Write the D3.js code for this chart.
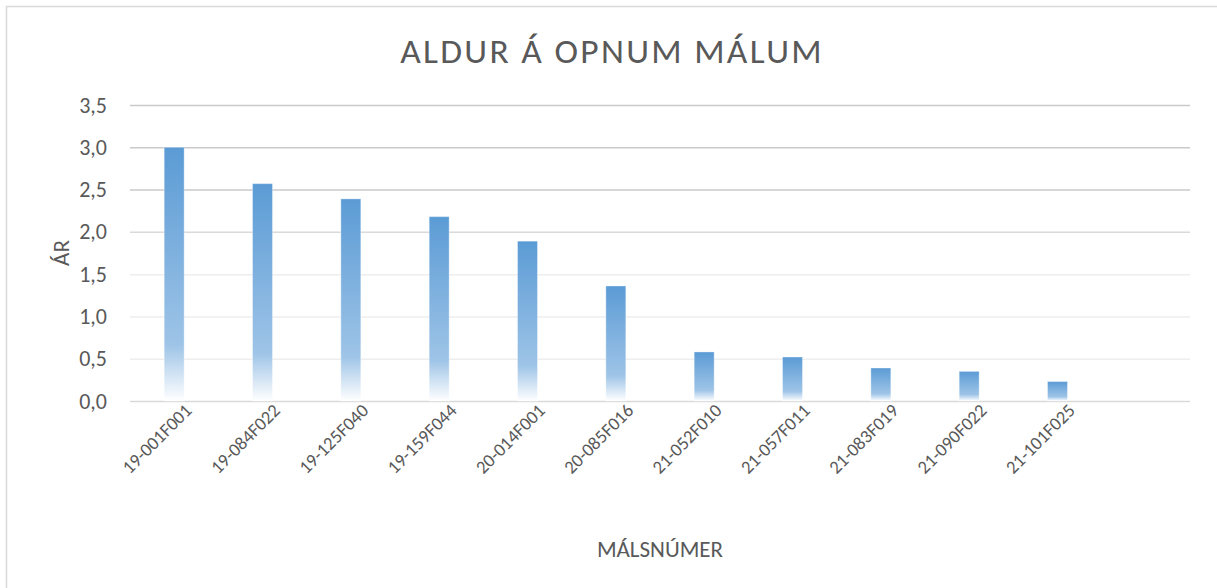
<!DOCTYPE html>
<html>
<head>
<meta charset="utf-8">
<style>
  body { margin: 0; background: #fff; }
  svg { display: block; font-family: Carlito, Lato, "Open Sans", sans-serif; }
</style>
</head>
<body>
<svg width="1217" height="588"></svg>
<script src="https://cdn.jsdelivr.net/npm/d3@7"></script>
<script>

// case numbers (the last slot is empty in the original sheet)
var cases = ["19-001F001", "19-084F022", "19-125F040", "19-159F044", "20-014F001",
             "20-085F016", "21-052F010", "21-057F011", "21-083F019", "21-090F022",
             "21-101F025", ""];
// age in years
var years = [3.00, 2.57, 2.39, 2.18, 1.89, 1.36, 0.58, 0.52, 0.39, 0.35, 0.23];
var yTicks = [0, 0.5, 1, 1.5, 2, 2.5, 3, 3.5];

var svg = d3.select("svg"),
    margin = {top: 105, right: 27, bottom: 187, left: 130},
    width = +svg.attr("width") - margin.left - margin.right,
    height = +svg.attr("height") - margin.top - margin.bottom;

// chart frame
svg.append("rect")
    .attr("x", 6.5).attr("y", 6.5)
    .attr("width", 1230).attr("height", 600)
    .attr("fill", "none")
    .attr("stroke", "#d9d9d9")
    .attr("stroke-width", 1.5);

var defs = svg.append("defs");
var grad = defs.append("linearGradient")
    .attr("id", "barfill")
    .attr("x1", 0).attr("y1", 0).attr("x2", 0).attr("y2", 1);
grad.append("stop").attr("offset", "0%").attr("stop-color", "#5b9bd5");
grad.append("stop").attr("offset", "78%").attr("stop-color", "#9ec4e7");
grad.append("stop").attr("offset", "100%").attr("stop-color", "#ffffff");

var g = svg.append("g").attr("transform", "translate(" + margin.left + "," + margin.top + ")");

var x = d3.scaleBand()
    .domain(cases.map(function(d, i) { return i; }))
    .range([0, width])
    .paddingInner(0.774)
    .paddingOuter(0.387);

var y = d3.scaleLinear()
    .domain([0, 3.5])
    .range([height, 0]);

var fmt = function(d) { return d.toFixed(1).replace(".", ","); };

// grid
g.append("g")
  .selectAll("line")
  .data(yTicks)
  .enter().append("line")
    .attr("x1", 0).attr("x2", width)
    .attr("y1", function(d) { return y(d) + 0.5; })
    .attr("y2", function(d) { return y(d) + 0.5; })
    .attr("stroke", function(d) { return d === 0 ? "#d9d9d9" : (d >= 2.5 ? "#cacaca" : (d >= 2 ? "#dadada" : "#eeeeee")); })
    .attr("stroke-width", 1.5);

// y axis labels
var yAxis = g.append("g")
    .call(d3.axisLeft(y).tickValues(yTicks).tickFormat(fmt).tickSize(0).tickPadding(23));
yAxis.select(".domain").remove();
yAxis.selectAll("text")
    .attr("fill", "#595959")
    .attr("font-size", 22)
    .attr("font-family", "Carlito, Lato, sans-serif");

// bars
g.append("g")
  .selectAll("rect")
  .data(years)
  .enter().append("rect")
    .attr("x", function(d, i) { return x(i); })
    .attr("y", function(d) { return y(d); })
    .attr("width", x.bandwidth())
    .attr("height", function(d) { return y(0) - y(d); })
    .attr("fill", "url(#barfill)")
    .attr("stroke", "#ffffff")
    .attr("stroke-opacity", 0.35)
    .attr("stroke-width", 1);

// x axis labels
var xAxis = g.append("g")
    .attr("transform", "translate(0," + height + ")")
    .call(d3.axisBottom(x).tickFormat(function(i) { return cases[i]; }).tickSize(0));
xAxis.select(".domain").remove();
xAxis.selectAll("text")
    .attr("fill", "#595959")
    .attr("font-size", 18.5)
    .attr("font-family", "Carlito, Lato, sans-serif")
    .attr("text-anchor", "end")
    .attr("dy", "0.35em")
    .attr("transform", "translate(12,4) rotate(-45)");

// titles
svg.append("text")
    .attr("x", 612).attr("y", 63)
    .attr("text-anchor", "middle")
    .attr("fill", "#595959")
    .attr("font-size", 35.5)
    .attr("letter-spacing", 2.3)
    .text("ALDUR Á OPNUM MÁLUM");

svg.append("text")
    .attr("transform", "translate(69," + (margin.top + height / 2) + ") rotate(-90)")
    .attr("text-anchor", "middle")
    .attr("fill", "#595959")
    .attr("font-size", 23)
    .text("ÁR");

svg.append("text")
    .attr("x", margin.left + width / 2).attr("y", 557)
    .attr("text-anchor", "middle")
    .attr("fill", "#595959")
    .attr("font-size", 23)
    .text("MÁLSNÚMER");

</script>
</body>
</html>
